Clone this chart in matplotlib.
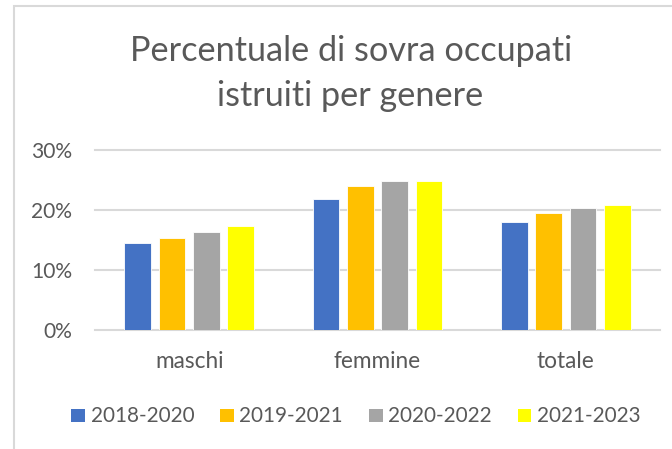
import matplotlib
matplotlib.use('Agg')
import matplotlib.pyplot as plt
from matplotlib.patches import Rectangle
import numpy as np

# ---- data ----
categories = ['maschi', 'femmine', 'totale']
series_labels = ['2018-2020', '2019-2021', '2020-2022', '2021-2023']
vals_2018_2020 = [14.4, 21.8, 18.0]
vals_2019_2021 = [15.3, 23.9, 19.4]
vals_2020_2022 = [16.3, 24.8, 20.3]
vals_2021_2023 = [17.3, 24.8, 20.8]
series_values = [vals_2018_2020, vals_2019_2021, vals_2020_2022, vals_2021_2023]
y_ticks = [0, 10, 20, 30]
y_tick_labels = ['0%', '10%', '20%', '30%']
title_lines = ['Percentuale di sovra occupati', 'istruiti per genere']

colors = ['#4472C4', '#FFC000', '#A5A5A5', '#FFFF00']
text_color = '#595959'
grid_color = '#D9D9D9'

plt.rcParams['font.family'] = ['Lato', 'DejaVu Sans']

W, H = 672, 449
fig = plt.figure(figsize=(W / 100, H / 100), dpi=100)
fig.patch.set_facecolor('white')


def fx(px):
    return px / W


def fy(py):
    return 1 - py / H


def text_width(fig, t):
    fig.canvas.draw()
    r = fig.canvas.get_renderer()
    return t.get_window_extent(r).width


def fit(fig, t, target):
    w = text_width(fig, t)
    t.set_fontsize(t.get_fontsize() * target / w)
    return t.get_fontsize()


# border
fig.patches.append(Rectangle((fx(14), -0.2), 1.5, fy(6) + 0.2, transform=fig.transFigure,
                             fill=False, edgecolor=grid_color, linewidth=1.5))

# title
t1 = fig.text(fx(351.5), fy(61), title_lines[0], ha='center', va='baseline',
              color=text_color, fontsize=24)
title_fs = fit(fig, t1, 443)
t2 = fig.text(fx(350), fy(106), title_lines[1], ha='center', va='baseline',
              color=text_color, fontsize=title_fs)

# font sizes for ticks / legend
tmp = fig.text(0, 0, '30%', fontsize=12)
tick_fs = fit(fig, tmp, 41)
tmp.set_text('femmine'); tmp.set_fontsize(12)
cat_fs = fit(fig, tmp, 87.3)
tmp.set_text('2018-2020'); tmp.set_fontsize(12)
leg_fs = fit(fig, tmp, 102.7)
tmp.remove()

# axes
ax = fig.add_axes([fx(95), fy(329.5), fx(660) - fx(95), (329.5 - 150) / H])
x = np.arange(len(categories))
step = 0.182
bw = 0.1418
handles = []
for i, (lab, vals, col) in enumerate(zip(series_labels, series_values, colors)):
    b = ax.bar(x + (i - 1.5) * step, vals, bw, color=col, edgecolor='white',
               linewidth=0.6, label=lab, zorder=3)
    handles.append(b)

ax.set_xlim(-0.5, 2.5)
ax.set_ylim(0, 30)
ax.set_yticks(y_ticks)
ax.set_yticklabels(y_tick_labels)
ax.set_xticks(x)
ax.set_xticklabels(categories)
ax.set_axisbelow(True)
ax.yaxis.grid(True, color=grid_color, linewidth=1.5, zorder=0)
for l in ax.get_ygridlines():
    l.set_clip_on(False)
for s in ax.spines.values():
    s.set_visible(False)
ax.tick_params(axis='both', length=0, colors=text_color)
ax.tick_params(axis='y', pad=23 * 0.72, labelsize=tick_fs)
ax.tick_params(axis='x', pad=22 * 0.72, labelsize=cat_fs)
ax.set_facecolor('none')

# legend
fs_px = leg_fs * 100 / 72
sq = 13.5
hh = (sq / fs_px - 0.245) / 0.65
leg = fig.legend(handles, series_labels, loc='center',
                 bbox_to_anchor=(fx(356), fy(416.5)), ncol=4, frameon=False,
                 fontsize=leg_fs, handlelength=sq / fs_px, handleheight=hh,
                 handletextpad=5.6 / fs_px, columnspacing=26.1 / fs_px,
                 borderpad=0, borderaxespad=0)
for t in leg.get_texts():
    t.set_color(text_color)
for p in leg.get_patches():
    p.set_edgecolor('none')

fig.savefig('out.png', dpi=100, facecolor='white')
